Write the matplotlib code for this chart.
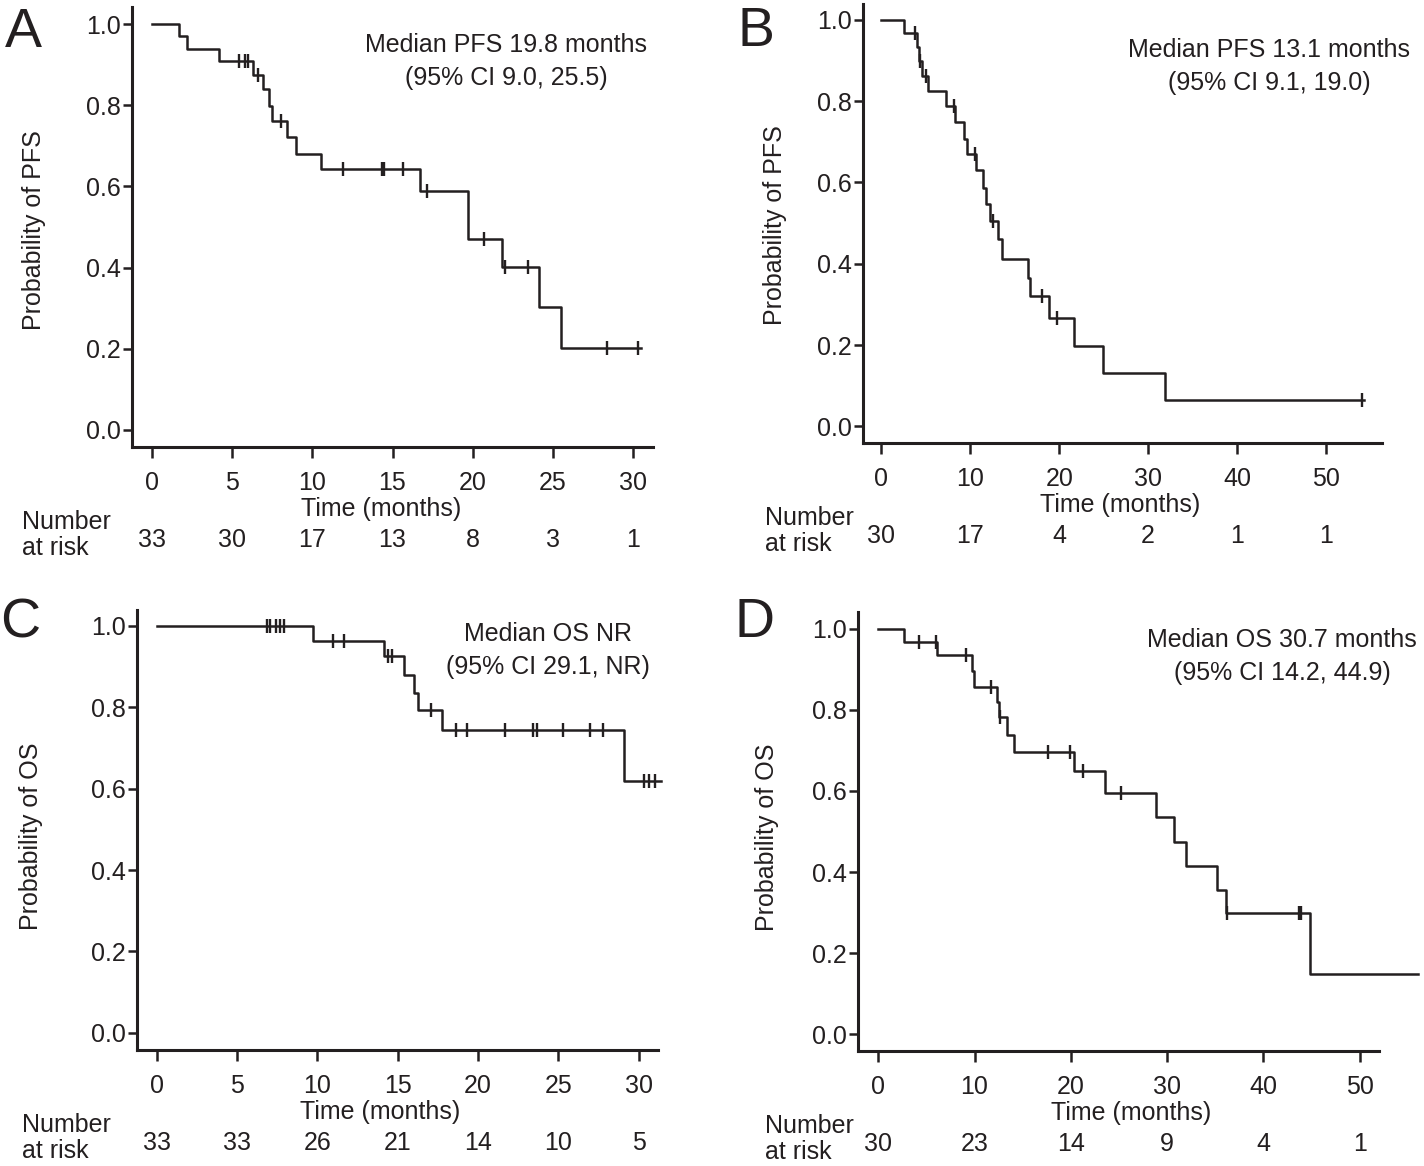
#!/usr/bin/env python3
"""Kaplan-Meier panels: PFS and OS for two cohorts."""

import matplotlib
matplotlib.use("Agg")
import matplotlib.pyplot as plt
import matplotlib.transforms as mtransforms
import numpy as np

plt.rcParams.update(
    {
        "font.family": ["Liberation Sans", "DejaVu Sans"],
        "font.size": 18,
        "axes.linewidth": 2.2,
    }
)

INK = "#231f20"
W, H = 1424, 1166

# ---- panel A: PFS, cohort 1
pfs1_times = [0, 1.67, 2.18, 4.18, 6.33, 6.93, 7.33, 7.49, 8.44, 9.0, 10.56,
              16.71, 19.73, 21.84, 24.11, 25.51]
pfs1_surv = [1.0, 0.970, 0.939, 0.909, 0.874, 0.839, 0.798, 0.762, 0.722,
             0.680, 0.642, 0.588, 0.470, 0.402, 0.302, 0.201]
pfs1_censor = [5.44, 5.82, 6.0, 6.6, 8.04, 11.93, 14.33, 14.49, 15.67, 17.18,
               20.71, 22.0, 23.44, 28.38, 30.29]
pfs1_end = 30.5
pfs1_ticks = [0, 5, 10, 15, 20, 25, 30]
pfs1_risk = [33, 30, 17, 13, 8, 3, 1]

# ---- panel B: PFS, cohort 2
pfs2_times = [0, 2.49, 4.02, 4.22, 4.62, 5.22, 7.31, 8.23, 9.24, 9.64, 10.64,
              11.45, 11.73, 12.25, 13.1, 13.53, 16.47, 16.67, 18.88, 21.69,
              24.9, 31.93]
pfs2_surv = [1.0, 0.967, 0.932, 0.899, 0.862, 0.825, 0.787, 0.749, 0.706,
             0.669, 0.631, 0.587, 0.546, 0.505, 0.460, 0.412, 0.365, 0.320,
             0.267, 0.197, 0.131, 0.066]
pfs2_censor = [3.82, 4.34, 5.02, 8.11, 10.52, 12.53, 18.07, 19.76, 54.1]
pfs2_end = 54.3
pfs2_ticks = [0, 10, 20, 30, 40, 50]
pfs2_risk = [30, 17, 4, 2, 1, 1]

# ---- panel C: OS, cohort 1
os1_times = [0, 9.71, 14.16, 15.4, 16.04, 16.29, 17.73, 29.11]
os1_surv = [1.0, 0.963, 0.925, 0.880, 0.836, 0.794, 0.745, 0.620]
os1_censor = [6.85, 7.05, 7.45, 7.65, 7.95, 11.0, 11.67, 14.38, 14.62, 17.07,
              18.6, 19.29, 21.67, 23.44, 23.67, 25.27, 26.96, 27.78, 30.33,
              30.67, 31.04]
os1_end = 31.4
os1_ticks = [0, 5, 10, 15, 20, 25, 30]
os1_risk = [33, 33, 26, 21, 14, 10, 5]

# ---- panel D: OS, cohort 2
os2_times = [0, 2.67, 6.11, 9.70, 9.93, 12.33, 12.5, 13.4, 14.15, 20.3, 23.6,
             28.8, 30.7, 31.96, 35.2, 36.1, 44.8]
os2_surv = [1.0, 0.967, 0.934, 0.896, 0.857, 0.820, 0.781, 0.738, 0.697,
            0.648, 0.594, 0.535, 0.475, 0.416, 0.357, 0.298, 0.150]
os2_censor = [4.26, 6.0, 9.15, 11.67, 12.6, 17.67, 19.9, 21.3, 25.2, 36.2,
              43.7, 43.9]
os2_end = 56.0
os2_ticks = [0, 10, 20, 30, 40, 50]
os2_risk = [30, 23, 14, 9, 4, 1]


def fx(px):
    return px / W


def fy(py):
    return 1 - py / H


def km_panel(fig, box, xlim, ylim, times, surv, censor, end, ticks, risk,
             letter, ylabel, note, layout):
    left, top, right, bottom = box
    ax = fig.add_axes([fx(left), fy(bottom), fx(right - left), (bottom - top) / H])

    t = list(times) + [end]
    s = list(surv) + [surv[-1]]
    ax.step(t, s, where="post", color=INK, lw=1.8, clip_on=False, zorder=3)
    idx = np.searchsorted(times, censor, side="right") - 1
    ax.plot(censor, np.asarray(surv)[idx], ls="none", marker="|", ms=10,
            mew=1.7, color=INK, clip_on=False, zorder=4)

    ax.set_xlim(*xlim)
    ax.set_ylim(*ylim)
    ax.set_xticks(ticks)
    ax.set_yticks([0, 0.2, 0.4, 0.6, 0.8, 1.0])
    ax.set_yticklabels(["0.0", "0.2", "0.4", "0.6", "0.8", "1.0"])
    for side in ("top", "right"):
        ax.spines[side].set_visible(False)
    for side in ("left", "bottom"):
        ax.spines[side].set_color(INK)
    ax.tick_params(axis="x", length=8, width=1.8, pad=9, colors=INK,
                   labelsize=18)
    ax.tick_params(axis="y", length=6.5, width=1.8, pad=1.5, colors=INK,
                   labelsize=18)

    # axis titles, letter and median note
    fig.text(fx(layout["ylab_x"]), fy(layout["ylab_y"]), ylabel, rotation=90,
             ha="center", va="center", color=INK)
    fig.text(fx(layout["letter"][0]), fy(layout["letter"][1]), letter,
             ha="center", va="center", fontsize=40, color=INK)
    fig.text(fx(layout["note"][0]), fy(layout["note"][1]), note[0],
             ha="center", va="center", color=INK)
    fig.text(fx(layout["note"][0]), fy(layout["note"][1] + 33), note[1],
             ha="center", va="center", color=INK)
    fig.text(fx(layout["time_x"]), fy(bottom + 62), "Time (months)",
             ha="center", va="center", color=INK)

    # number at risk table
    fig.text(fx(layout["risk_x"]), fy(bottom + 75), "Number",
             ha="left", va="center", color=INK)
    fig.text(fx(layout["risk_x"]), fy(bottom + 101), "at risk",
             ha="left", va="center", color=INK)
    blend = mtransforms.blended_transform_factory(ax.transData, fig.transFigure)
    for x, n in zip(ticks, risk):
        ax.text(x, fy(bottom + 93), str(n), transform=blend, ha="center",
                va="center", color=INK, clip_on=False)
    return ax


fig = plt.figure(figsize=(W / 100, H / 100), dpi=100)

km_panel(fig, (132, 7, 653, 447), (-1.23, 31.23), (-0.042, 1.042),
         pfs1_times, pfs1_surv, pfs1_censor, pfs1_end, pfs1_ticks, pfs1_risk,
         "A", "Probability of PFS",
         ("Median PFS 19.8 months", "(95% CI 9.0, 25.5)"),
         {"ylab_x": 34, "ylab_y": 230, "letter": (23, 33), "note": (506, 45),
          "time_x": 381, "risk_x": 22})

km_panel(fig, (863, 4, 1382, 443), (-2.07, 56.3), (-0.041, 1.039),
         pfs2_times, pfs2_surv, pfs2_censor, pfs2_end, pfs2_ticks, pfs2_risk,
         "B", "Probability of PFS",
         ("Median PFS 13.1 months", "(95% CI 9.1, 19.0)"),
         {"ylab_x": 775, "ylab_y": 225, "letter": (756, 32), "note": (1269, 50),
          "time_x": 1120, "risk_x": 765})

km_panel(fig, (137, 610, 658, 1050), (-1.23, 31.2), (-0.042, 1.039),
         os1_times, os1_surv, os1_censor, os1_end, os1_ticks, os1_risk,
         "C", "Probability of OS",
         ("Median OS NR", "(95% CI 29.1, NR)"),
         {"ylab_x": 31, "ylab_y": 836, "letter": (20, 623), "note": (548, 634),
          "time_x": 380, "risk_x": 22})

km_panel(fig, (858, 612, 1379, 1051), (-2.1, 52.0), (-0.041, 1.041),
         os2_times, os2_surv, os2_censor, os2_end, os2_ticks, os2_risk,
         "D", "Probability of OS",
         ("Median OS 30.7 months", "(95% CI 14.2, 44.9)"),
         {"ylab_x": 767, "ylab_y": 837, "letter": (755, 623), "note": (1282, 640),
          "time_x": 1131, "risk_x": 765})

fig.savefig("out.png", dpi=100, facecolor="white")
